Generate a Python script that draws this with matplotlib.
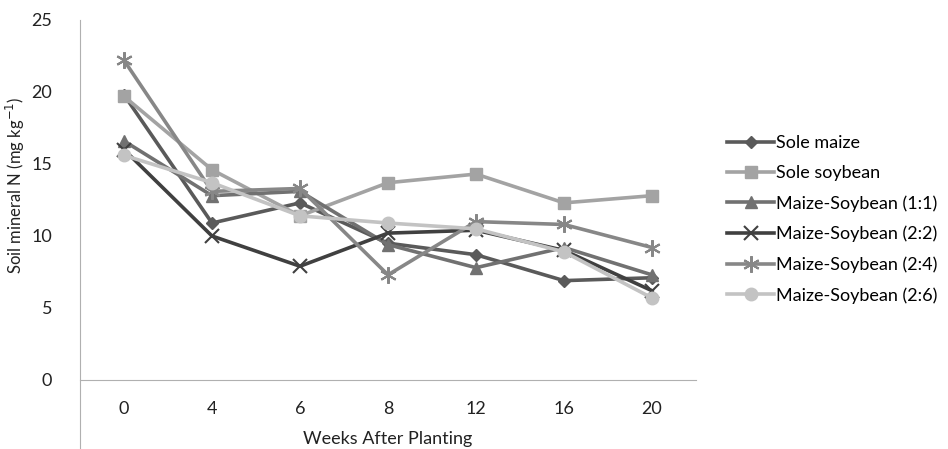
import matplotlib.pyplot as plt
import numpy as np

weeks = ["0", "4", "6", "8", "12", "16", "20"]

sole_maize = [19.8, 10.9, 12.3, 9.5, 8.7, 6.9, 7.1]
sole_soybean = [19.7, 14.6, 11.4, 13.7, 14.3, 12.3, 12.8]
ms_1_1 = [16.6, 12.8, 13.1, 9.4, 7.8, 9.2, 7.3]
ms_2_2 = [16.0, 10.0, 7.9, 10.2, 10.4, 9.0, 6.2]
ms_2_4 = [22.2, 13.1, 13.3, 7.3, 11.0, 10.8, 9.2]
ms_2_6 = [15.6, 13.7, 11.4, 10.9, 10.5, 8.9, 5.7]

names = ["Sole maize", "Sole soybean", "Maize-Soybean (1:1)",
         "Maize-Soybean (2:2)", "Maize-Soybean (2:4)", "Maize-Soybean (2:6)"]
series = [sole_maize, sole_soybean, ms_1_1, ms_2_2, ms_2_4, ms_2_6]
colors = ["#5a5a5a", "#a3a3a3", "#717171", "#404040", "#878787", "#c3c3c3"]
markers = ["D", "s", "^", "x", (6, 2, 0), "o"]
msizes = [6, 8, 8, 10, 12, 9]

plt.rcParams['font.family'] = ['Lato', 'DejaVu Sans']

fig = plt.figure(figsize=(9.48, 4.49), dpi=100)
# axes spans from y=0 level at 380px down to image bottom
ax = fig.add_axes([80 / 948, 0, 616 / 948, (449 - 20) / 449])

x = np.arange(len(weeks))
for vals, name, c, m, ms in zip(series, names, colors, markers, msizes):
    mew = 1.5 if m in ("x", (6, 2, 0)) else 1
    ax.plot(x, vals, color=c, lw=2.6, marker=m, markersize=ms,
            markeredgecolor=c, markerfacecolor=c, markeredgewidth=mew, label=name)

ax.set_xlim(-0.5, 6.5)
ax.set_ylim(-(449 - 380) / 14.4, 25)
ax.set_yticks([0, 5, 10, 15, 20, 25])
ax.set_xticks(x)
ax.set_xticklabels(weeks)

ax.spines['top'].set_visible(False)
ax.spines['right'].set_visible(False)
ax.spines['bottom'].set_position(('data', 0))
ax.spines['bottom'].set_color("#b0b0b0")
ax.spines['left'].set_color("#b0b0b0")
ax.tick_params(axis='both', length=0, labelsize=13, colors="#222222")
ax.tick_params(axis='y', pad=20)
ax.tick_params(axis='x', pad=15)

ax.set_xlabel("Weeks After Planting", fontsize=13, labelpad=10, color="#222222")
ax.set_ylabel("Soil mineral N (mg kg$^{-1}$)", fontsize=12, color="#222222")
ax.yaxis.set_label_coords(-0.086, 0.615)

leg = ax.legend(loc='upper left', bbox_to_anchor=(718 / 948, 1 - 126 / 449),
                bbox_transform=fig.transFigure, frameon=False, fontsize=13,
                handlelength=2.6, handletextpad=0.1, labelspacing=0.78,
                borderpad=0)

fig.savefig("out.png", dpi=100)
